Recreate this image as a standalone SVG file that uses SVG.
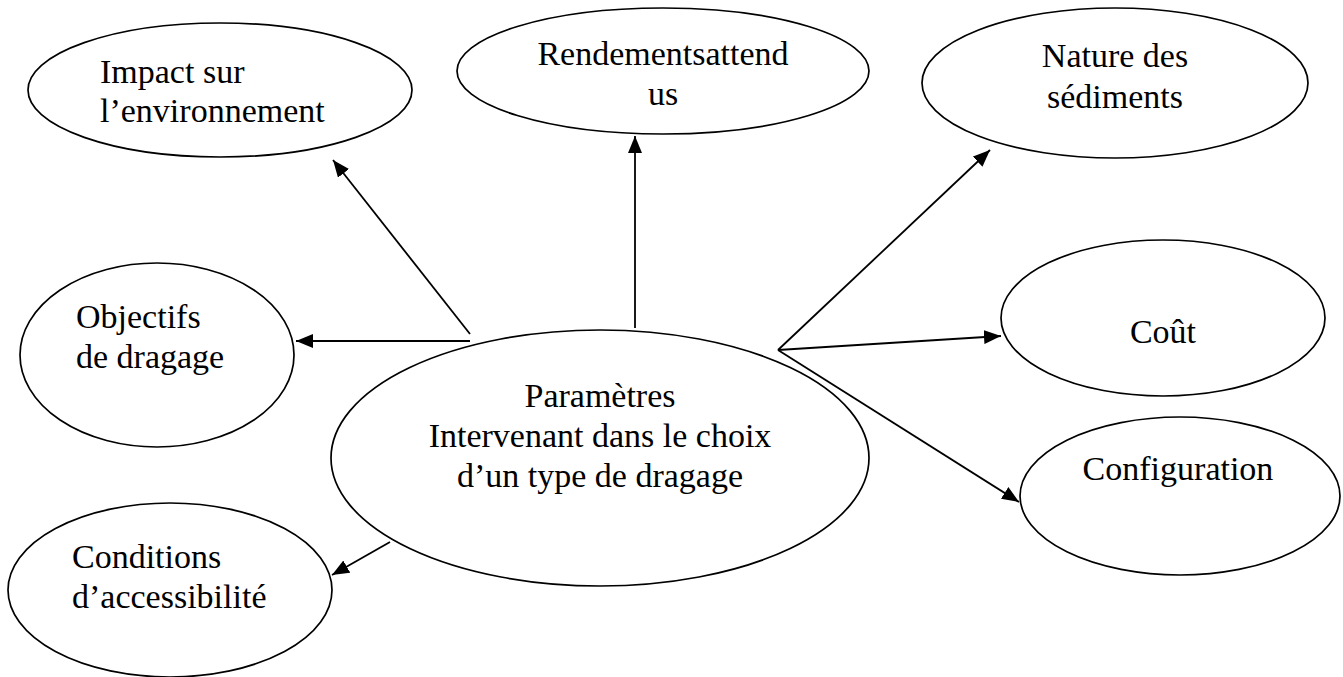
<svg xmlns="http://www.w3.org/2000/svg" width="1343" height="677" viewBox="0 0 1343 677">
<style>
.n{fill:#fff;stroke:#000;stroke-width:1.7}
.t{font-family:"Liberation Serif","Times New Roman",serif;font-size:34px;fill:#000}
.c{stroke:#000;stroke-width:1.8;fill:none;marker-end:url(#ah)}
.m{text-anchor:middle}
</style>
<defs>
<marker id="ah" markerUnits="userSpaceOnUse" markerWidth="17" markerHeight="14" refX="17" refY="7" orient="auto">
<path d="M0,0 L17,7 L0,14 z" fill="#000"/>
</marker>
</defs>
<rect width="1343" height="677" fill="#fff"/>
<g id="connectors">
<line class="c" x1="470" y1="334" x2="333" y2="160"/>
<line class="c" x1="635" y1="328" x2="635" y2="136"/>
<line class="c" x1="470" y1="341" x2="296" y2="341"/>
<line class="c" x1="390" y1="542" x2="332" y2="575"/>
<line class="c" x1="778" y1="350" x2="990" y2="150"/>
<line class="c" x1="778" y1="350" x2="1001" y2="336"/>
<line class="c" x1="778" y1="350" x2="1019" y2="502"/>
</g>
<g id="impact">
<ellipse class="n" cx="220" cy="90" rx="192" ry="67"/>
<text class="t" x="100" y="83">Impact sur</text>
<text class="t" x="100" y="122">l’environnement</text>
</g>
<g id="rendements">
<ellipse class="n" cx="663" cy="71" rx="206" ry="63"/>
<text class="t m" x="663" y="65">Rendementsattend</text>
<text class="t m" x="663" y="105">us</text>
</g>
<g id="nature">
<ellipse class="n" cx="1115" cy="83" rx="193" ry="75"/>
<text class="t m" x="1115" y="67">Nature des</text>
<text class="t m" x="1115" y="108">sédiments</text>
</g>
<g id="objectifs">
<ellipse class="n" cx="157" cy="355" rx="137" ry="92"/>
<text class="t" x="76" y="328">Objectifs</text>
<text class="t" x="76" y="368">de dragage</text>
</g>
<g id="parametres">
<ellipse class="n" cx="600" cy="458" rx="269" ry="128"/>
<text class="t m" x="600" y="407">Paramètres</text>
<text class="t m" x="600" y="447">Intervenant dans le choix</text>
<text class="t m" x="600" y="487">d’un type de dragage</text>
</g>
<g id="cout">
<ellipse class="n" cx="1163" cy="318" rx="162" ry="78"/>
<text class="t m" x="1163" y="343">Coût</text>
</g>
<g id="configuration">
<ellipse class="n" cx="1180" cy="496" rx="160" ry="79"/>
<text class="t m" x="1178" y="480">Configuration</text>
</g>
<g id="conditions">
<ellipse class="n" cx="170" cy="590" rx="162" ry="87"/>
<text class="t" x="72" y="568">Conditions</text>
<text class="t" x="72" y="608">d’accessibilité</text>
</g>
</svg>
